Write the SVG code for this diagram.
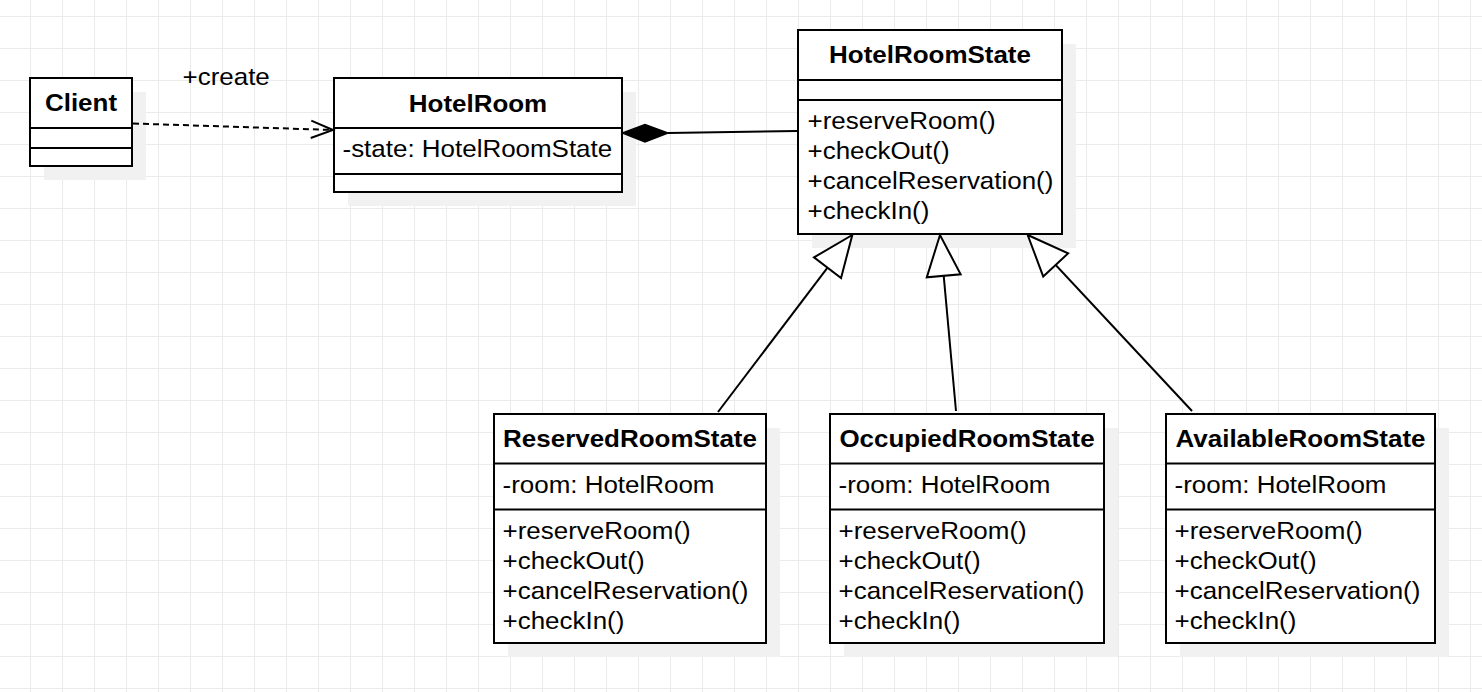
<svg xmlns="http://www.w3.org/2000/svg" width="1482" height="692" viewBox="0 0 1482 692">
  <defs>
    <pattern id="grid" x="30" y="16" width="32" height="32" patternUnits="userSpaceOnUse">
      <path d="M0.5,0 V32 M0,0.5 H32" fill="none" stroke="#ebebeb" stroke-width="1"/>
    </pattern>
    <marker id="openArrow" markerUnits="userSpaceOnUse" markerWidth="30" markerHeight="24" viewBox="-24 -12 30 24" refX="0" refY="0" orient="auto">
      <path d="M-22,-8.7 L0,0 L-22,8.7" fill="none" stroke="#000" stroke-width="2"/>
    </marker>
    <marker id="hollowTri" markerUnits="userSpaceOnUse" markerWidth="50" markerHeight="40" viewBox="-3 -20 50 40" refX="41" refY="0" orient="auto">
      <path d="M0,-17 L41,0 L0,17 Z" fill="#fff" stroke="#000" stroke-width="2" stroke-linejoin="miter"/>
    </marker>
  </defs>
  <style>
    .shadow { fill: #f1f1f1; }
    .box { fill: #fff; stroke: #000; stroke-width: 2; }
    .sep { stroke: #000; stroke-width: 2; }
    .title { font-family: "Liberation Sans", Arial, sans-serif; font-size: 23.6px; font-weight: bold; fill: #000; text-anchor: middle; }
    .member { font-family: "Liberation Sans", Arial, sans-serif; font-size: 23.6px; fill: #000; }
    .conn { fill: none; stroke: #000; stroke-width: 2; }
  </style>

  <rect width="1482" height="692" fill="#fff"/>
  <rect width="1482" height="692" fill="url(#grid)"/>

  <g id="Client">
    <rect class="shadow" x="44" y="92" width="102" height="88"/>
    <rect class="box" x="30" y="78" width="102" height="88"/>
    <line class="sep" x1="30" y1="128" x2="132" y2="128"/>
    <line class="sep" x1="30" y1="148" x2="132" y2="148"/>
    <text class="title" transform="translate(81,111) scale(1.1,1)">Client</text>
  </g>

  <g id="HotelRoom">
    <rect class="shadow" x="348" y="92" width="288" height="114"/>
    <rect class="box" x="334" y="78" width="288" height="114"/>
    <line class="sep" x1="334" y1="128" x2="622" y2="128"/>
    <line class="sep" x1="334" y1="174" x2="622" y2="174"/>
    <text class="title" transform="translate(478,111.5) scale(1.1,1)">HotelRoom</text>
    <text class="member" transform="translate(342.5,157) scale(1.1,1)">-state: HotelRoomState</text>
  </g>

  <g id="HotelRoomState">
    <rect class="shadow" x="812" y="44" width="264" height="204"/>
    <rect class="box" x="798" y="30" width="264" height="204"/>
    <line class="sep" x1="798" y1="80" x2="1062" y2="80"/>
    <line class="sep" x1="798" y1="100" x2="1062" y2="100"/>
    <text class="title" transform="translate(930,63.3) scale(1.1,1)">HotelRoomState</text>
    <text class="member" transform="translate(807.5,129) scale(1.1,1)">+reserveRoom()</text>
    <text class="member" transform="translate(807.5,159) scale(1.1,1)">+checkOut()</text>
    <text class="member" transform="translate(807.5,189) scale(1.1,1)">+cancelReservation()</text>
    <text class="member" transform="translate(807.5,219) scale(1.1,1)">+checkIn()</text>
  </g>

  <g id="ReservedRoomState">
    <rect class="shadow" x="508" y="428" width="272" height="229"/>
    <rect class="box" x="494" y="414" width="272" height="229"/>
    <line class="sep" x1="494" y1="463.5" x2="766" y2="463.5"/>
    <line class="sep" x1="494" y1="509.5" x2="766" y2="509.5"/>
    <text class="title" transform="translate(630,446.7) scale(1.1,1)">ReservedRoomState</text>
    <text class="member" transform="translate(502.5,492.7) scale(1.1,1)">-room: HotelRoom</text>
    <text class="member" transform="translate(502.5,539) scale(1.1,1)">+reserveRoom()</text>
    <text class="member" transform="translate(502.5,569) scale(1.1,1)">+checkOut()</text>
    <text class="member" transform="translate(502.5,599) scale(1.1,1)">+cancelReservation()</text>
    <text class="member" transform="translate(502.5,629) scale(1.1,1)">+checkIn()</text>
  </g>

  <g id="OccupiedRoomState">
    <rect class="shadow" x="844" y="428" width="274" height="229"/>
    <rect class="box" x="830" y="414" width="274" height="229"/>
    <line class="sep" x1="830" y1="463.5" x2="1104" y2="463.5"/>
    <line class="sep" x1="830" y1="509.5" x2="1104" y2="509.5"/>
    <text class="title" transform="translate(967,446.7) scale(1.1,1)">OccupiedRoomState</text>
    <text class="member" transform="translate(838.5,492.7) scale(1.1,1)">-room: HotelRoom</text>
    <text class="member" transform="translate(838.5,539) scale(1.1,1)">+reserveRoom()</text>
    <text class="member" transform="translate(838.5,569) scale(1.1,1)">+checkOut()</text>
    <text class="member" transform="translate(838.5,599) scale(1.1,1)">+cancelReservation()</text>
    <text class="member" transform="translate(838.5,629) scale(1.1,1)">+checkIn()</text>
  </g>

  <g id="AvailableRoomState">
    <rect class="shadow" x="1180" y="428" width="269" height="229"/>
    <rect class="box" x="1166" y="414" width="269" height="229"/>
    <line class="sep" x1="1166" y1="463.5" x2="1435" y2="463.5"/>
    <line class="sep" x1="1166" y1="509.5" x2="1435" y2="509.5"/>
    <text class="title" transform="translate(1300.5,446.7) scale(1.1,1)">AvailableRoomState</text>
    <text class="member" transform="translate(1174.5,492.7) scale(1.1,1)">-room: HotelRoom</text>
    <text class="member" transform="translate(1174.5,539) scale(1.1,1)">+reserveRoom()</text>
    <text class="member" transform="translate(1174.5,569) scale(1.1,1)">+checkOut()</text>
    <text class="member" transform="translate(1174.5,599) scale(1.1,1)">+cancelReservation()</text>
    <text class="member" transform="translate(1174.5,629) scale(1.1,1)">+checkIn()</text>
  </g>

  <g id="connectors">
    <line class="conn" x1="133" y1="123.5" x2="333" y2="130" stroke-dasharray="6,4" marker-end="url(#openArrow)"/>
    <text class="member" transform="translate(182.5,85) scale(1.1,1)">+create</text>
    <line class="conn" x1="668" y1="133" x2="797" y2="131"/>
    <polygon points="622.5,133 645,124.5 668,133 645,142" fill="#000" stroke="#000" stroke-width="1.5" stroke-linejoin="miter"/>
    <line class="conn" x1="718" y1="412" x2="852.3" y2="235" marker-end="url(#hollowTri)"/>
    <line class="conn" x1="956" y1="411" x2="940" y2="235" marker-end="url(#hollowTri)"/>
    <line class="conn" x1="1192" y1="411" x2="1027.7" y2="235" marker-end="url(#hollowTri)"/>
  </g>
</svg>
